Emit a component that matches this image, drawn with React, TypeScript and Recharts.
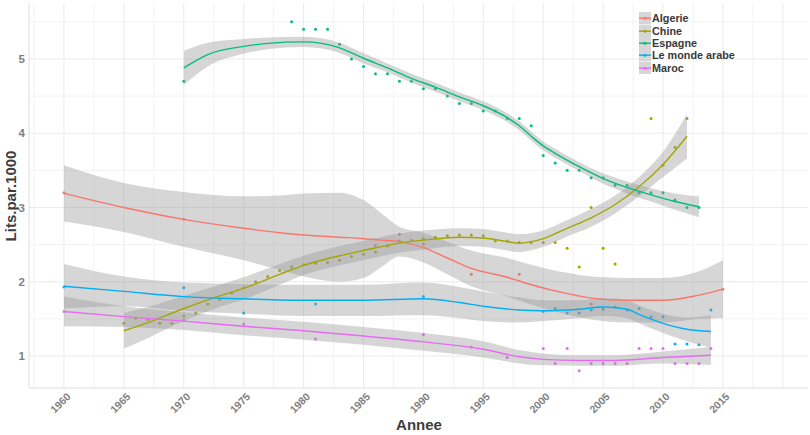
import React from 'react';
import { ComposedChart, XAxis, YAxis, Line, Area, Scatter, CartesianGrid } from 'recharts';

// ---------- data ----------
const seriesNames = ['Algerie', 'Chine', 'Espagne', 'Le monde arabe', 'Maroc'];
const seriesColors = ['#F8766D', '#A3A500', '#00BF7D', '#00B0F6', '#E76BF3'];

const yearTicks = [1960, 1965, 1970, 1975, 1980, 1985, 1990, 1995, 2000, 2005, 2010, 2015];
const majorYearGrid = [1960, 1965, 1970, 1975, 1980, 1985, 1990, 1995, 2000, 2005, 2010, 2015, 2020];
const minorYearGrid = [1957.5, 1962.5, 1967.5, 1972.5, 1977.5, 1982.5, 1987.5, 1992.5, 1997.5, 2002.5, 2007.5, 2012.5, 2017.5];
const valueTicks = [1, 2, 3, 4, 5];
const minorValueGrid = [1.5, 2.5, 3.5, 4.5, 5.5];
const xDomain = [1957.08, 2022.1];
const yDomain = [0.569, 5.754];

// observed points
const algerieYears = [1960, 1970, 1986, 1988, 1990, 1994, 1998, 2004, 2015];
const algerieValues = [3.2, 2.84, 2.49, 2.64, 2.51, 2.1, 2.1, 1.7, 1.9];

const chineYears = [1965, 1966, 1967, 1968, 1969, 1970, 1971, 1972, 1973, 1974, 1975, 1976, 1977, 1978, 1979, 1980, 1981, 1982, 1983, 1984, 1985, 1986, 1987, 1988, 1989, 1990, 1991, 1992, 1993, 1994, 1995, 1996, 1997, 1998, 1999, 2000, 2001, 2002, 2003, 2004, 2005, 2006, 2009, 2010, 2011, 2012];
const chineValues = [1.44, 1.51, 1.49, 1.44, 1.44, 1.54, 1.58, 1.7, 1.76, 1.85, 1.92, 2.0, 2.07, 2.15, 2.2, 2.23, 2.25, 2.26, 2.29, 2.34, 2.37, 2.4, 2.48, 2.55, 2.56, 2.58, 2.6, 2.62, 2.63, 2.63, 2.62, 2.55, 2.55, 2.53, 2.53, 2.53, 2.53, 2.45, 2.2, 3.0, 2.45, 2.24, 4.2, 3.57, 3.81, 4.2];

const espagneYears = [1970, 1979, 1980, 1981, 1982, 1983, 1984, 1985, 1986, 1987, 1988, 1989, 1990, 1991, 1992, 1993, 1994, 1995, 1996, 1997, 1998, 1999, 2000, 2001, 2002, 2003, 2004, 2005, 2006, 2007, 2008, 2009, 2010, 2011, 2012, 2013];
const espagneValues = [4.7, 5.5, 5.4, 5.4, 5.4, 5.2, 5.0, 4.9, 4.8, 4.8, 4.7, 4.7, 4.6, 4.6, 4.5, 4.4, 4.4, 4.3, 4.3, 4.2, 4.2, 4.1, 3.7, 3.6, 3.5, 3.5, 3.4, 3.4, 3.3, 3.3, 3.2, 3.2, 3.2, 3.1, 3.0, 3.0];

const arabeYears = [1960, 1970, 1975, 1981, 1990, 2000, 2001, 2002, 2003, 2004, 2005, 2006, 2007, 2008, 2009, 2010, 2011, 2012, 2013, 2014];
const arabeValues = [1.93, 1.92, 1.58, 1.7, 1.8, 1.6, 1.64, 1.58, 1.58, 1.62, 1.63, 1.66, 1.62, 1.64, 1.53, 1.53, 1.16, 1.16, 1.15, 1.62];

const marocYears = [1960, 1970, 1975, 1981, 1990, 1994, 1997, 2000, 2001, 2002, 2003, 2004, 2005, 2006, 2007, 2008, 2009, 2010, 2011, 2012, 2013, 2014];
const marocValues = [1.6, 1.48, 1.43, 1.23, 1.29, 1.12, 0.98, 1.1, 0.9, 1.1, 0.8, 0.9, 0.9, 0.9, 0.9, 1.1, 1.1, 1.1, 0.9, 0.9, 0.9, 1.1];

// smoothed fits with confidence band
const algerieFitYears = [1960, 1965, 1970, 1975, 1978, 1980, 1983, 1985, 1986.5, 1988, 1990, 1992, 1994, 1997, 1999, 2002, 2004, 2007, 2010, 2013, 2015];
const algerieFit = [3.19, 3.0, 2.84, 2.72, 2.66, 2.63, 2.6, 2.58, 2.56, 2.54, 2.46, 2.32, 2.18, 2.06, 1.96, 1.84, 1.78, 1.75, 1.75, 1.82, 1.9];
const algerieLow = [2.81, 2.67, 2.47, 2.29, 2.16, 2.07, 2.0, 2.05, 2.2, 2.34, 2.26, 2.1, 1.94, 1.8, 1.69, 1.56, 1.49, 1.45, 1.45, 1.5, 1.51];
const algerieHigh = [3.57, 3.33, 3.21, 3.15, 3.16, 3.19, 3.2, 3.1, 2.92, 2.74, 2.66, 2.54, 2.42, 2.32, 2.23, 2.12, 2.07, 2.05, 2.05, 2.14, 2.29];

const chineFitYears = [1965, 1967, 1970, 1973, 1975, 1978, 1980, 1983, 1985, 1988, 1990, 1993, 1995, 1997, 1998, 2000, 2002, 2004, 2006, 2008, 2010, 2012];
const chineFit = [1.34, 1.45, 1.64, 1.81, 1.91, 2.1, 2.22, 2.35, 2.42, 2.52, 2.56, 2.6, 2.59, 2.54, 2.52, 2.58, 2.72, 2.86, 3.04, 3.28, 3.58, 3.96];
const chineLow = [1.1, 1.24, 1.47, 1.66, 1.76, 1.96, 2.09, 2.22, 2.29, 2.39, 2.43, 2.48, 2.47, 2.42, 2.4, 2.47, 2.61, 2.74, 2.92, 3.15, 3.41, 3.66];
const chineHigh = [1.58, 1.66, 1.81, 1.96, 2.06, 2.24, 2.35, 2.48, 2.55, 2.65, 2.69, 2.72, 2.71, 2.66, 2.64, 2.69, 2.83, 2.98, 3.16, 3.41, 3.75, 4.26];

const espagneFitYears = [1970, 1972, 1975, 1977, 1980, 1983, 1985, 1987, 1989, 1991, 1993, 1995, 1997, 1998, 1999, 2000, 2001, 2003, 2005, 2007, 2009, 2011, 2013];
const espagneFit = [4.88, 5.06, 5.17, 5.21, 5.23, 5.15, 5.01, 4.88, 4.74, 4.62, 4.49, 4.37, 4.21, 4.1, 3.96, 3.83, 3.73, 3.55, 3.39, 3.27, 3.17, 3.08, 3.01];
const espagneLow = [4.65, 4.9, 5.07, 5.13, 5.16, 5.08, 4.94, 4.82, 4.68, 4.56, 4.43, 4.31, 4.15, 4.04, 3.9, 3.77, 3.67, 3.49, 3.32, 3.19, 3.08, 2.97, 2.87];
const espagneHigh = [5.11, 5.22, 5.27, 5.29, 5.3, 5.22, 5.08, 4.94, 4.8, 4.68, 4.55, 4.43, 4.27, 4.16, 4.02, 3.89, 3.79, 3.61, 3.46, 3.35, 3.26, 3.19, 3.15];

const arabeFitYears = [1960, 1965, 1970, 1975, 1980, 1985, 1990, 1993, 1995, 1998, 2000, 2003, 2005, 2007, 2008, 2010, 2012, 2014];
const arabeFit = [1.94, 1.87, 1.8, 1.77, 1.75, 1.75, 1.77, 1.72, 1.67, 1.62, 1.61, 1.63, 1.66, 1.63, 1.56, 1.44, 1.36, 1.33];
const arabeLow = [1.64, 1.67, 1.61, 1.57, 1.54, 1.54, 1.55, 1.51, 1.47, 1.45, 1.47, 1.51, 1.54, 1.51, 1.44, 1.31, 1.2, 1.11];
const arabeHigh = [2.24, 2.07, 1.99, 1.97, 1.96, 1.96, 1.99, 1.93, 1.87, 1.79, 1.75, 1.75, 1.78, 1.75, 1.68, 1.57, 1.52, 1.55];

const marocFitYears = [1960, 1965, 1970, 1975, 1980, 1985, 1990, 1995, 1998, 2000, 2003, 2006, 2010, 2014];
const marocFit = [1.6, 1.53, 1.47, 1.4, 1.34, 1.27, 1.19, 1.09, 0.99, 0.955, 0.94, 0.94, 0.98, 1.01];
const marocLow = [1.4, 1.39, 1.35, 1.28, 1.22, 1.15, 1.07, 0.98, 0.9, 0.875, 0.87, 0.87, 0.9, 0.88];
const marocHigh = [1.8, 1.67, 1.59, 1.52, 1.46, 1.39, 1.31, 1.2, 1.08, 1.035, 1.01, 1.01, 1.06, 1.12];

// ---------- build ----------
const toPoints = (years: number[], values: number[]) => years.map((x, i) => ({ x, y: values[i] }));
const toSmooth = (years: number[], fit: number[], lo: number[], hi: number[]) =>
  years.map((x, i) => ({ x, fit: fit[i], band: [lo[i], hi[i]] }));

const pointSets = [
  toPoints(algerieYears, algerieValues),
  toPoints(chineYears, chineValues),
  toPoints(espagneYears, espagneValues),
  toPoints(arabeYears, arabeValues),
  toPoints(marocYears, marocValues),
];
const smoothSets = [
  toSmooth(algerieFitYears, algerieFit, algerieLow, algerieHigh),
  toSmooth(chineFitYears, chineFit, chineLow, chineHigh),
  toSmooth(espagneFitYears, espagneFit, espagneLow, espagneHigh),
  toSmooth(arabeFitYears, arabeFit, arabeLow, arabeHigh),
  toSmooth(marocFitYears, marocFit, marocLow, marocHigh),
];

const FONT = "'Liberation Sans', Arial, sans-serif";

const mapX = (axis: any, offset: any, v: number) => {
  if (axis && typeof axis.scale === 'function') return axis.scale(v);
  return offset.left + ((v - xDomain[0]) / (xDomain[1] - xDomain[0])) * offset.width;
};
const mapY = (axis: any, offset: any, v: number) => {
  if (axis && typeof axis.scale === 'function') return axis.scale(v);
  return offset.top + ((yDomain[1] - v) / (yDomain[1] - yDomain[0])) * offset.height;
};

const XTick = (props: any) => {
  const { x, payload } = props;
  return (
    <g transform={`translate(${x + 2},${392}) rotate(-45)`}>
      <text x={0} y={0} dy="0.71em" textAnchor="end" fill="#7f7f7f" fontSize={10.5} fontWeight="bold" fontFamily={FONT}>
        {payload.value}
      </text>
    </g>
  );
};

const YTick = (props: any) => {
  const { y, payload } = props;
  return (
    <text x={25} y={y} dy="0.36em" textAnchor="end" fill="#7f7f7f" fontSize={11.5} fontWeight="bold" fontFamily={FONT}>
      {payload.value}
    </text>
  );
};

const dotShape = (color: string) => (p: any) => <circle cx={p.cx} cy={p.cy} r={1.5} fill={color} />;

const ROW = 12.4;

export default function App() {
  return (
    <div style={{ position: 'absolute', left: 0, top: 0, width: 810, height: 435, background: '#ffffff' }}>
      <ComposedChart width={810} height={435} margin={{ top: 3, right: 2, bottom: 0, left: 0 }}>
        <CartesianGrid
          stroke="#f3f3f3"
          strokeWidth={1}
          horizontalCoordinatesGenerator={({ yAxis, offset }: any) => minorValueGrid.map((v) => mapY(yAxis, offset, v))}
          verticalCoordinatesGenerator={({ xAxis, offset }: any) => minorYearGrid.map((v) => mapX(xAxis, offset, v))}
        />
        <CartesianGrid
          stroke="#ebebeb"
          strokeWidth={1}
          horizontalCoordinatesGenerator={({ yAxis, offset }: any) => valueTicks.map((v) => mapY(yAxis, offset, v))}
          verticalCoordinatesGenerator={({ xAxis, offset }: any) => majorYearGrid.map((v) => mapX(xAxis, offset, v))}
        />
        <XAxis
          dataKey="x"
          type="number"
          domain={xDomain}
          ticks={yearTicks}
          allowDataOverflow
          height={47}
          axisLine={{ stroke: '#dedede' }}
          tickLine={false}
          tick={<XTick />}
          interval={0}
        />
        <YAxis
          type="number"
          domain={yDomain}
          ticks={valueTicks}
          allowDataOverflow
          width={29}
          axisLine={{ stroke: '#dedede' }}
          tickLine={false}
          tick={<YTick />}
          interval={0}
        />
        {pointSets.map((pts, i) => (
          <Scatter
            key={'s' + i}
            name={seriesNames[i]}
            data={pts}
            dataKey="y"
            fill={seriesColors[i]}
            shape={dotShape(seriesColors[i])}
            isAnimationActive={false}
            zIndex={50}
          />
        ))}
        {smoothSets.map((sm, i) => (
          <Area
            key={'a' + i}
            data={sm}
            dataKey="band"
            type="monotone"
            stroke="none"
            fill="#999999"
            fillOpacity={0.4}
            isAnimationActive={false}
            activeDot={false}
            dot={false}
          />
        ))}
        {smoothSets.map((sm, i) => (
          <Line
            key={'l' + i}
            data={sm}
            dataKey="fit"
            type="monotone"
            stroke={seriesColors[i]}
            strokeWidth={1.4}
            dot={false}
            activeDot={false}
            isAnimationActive={false}
          />
        ))}
      </ComposedChart>

      <div style={{ position: 'absolute', left: 639, top: 12.3, fontFamily: FONT }}>
        {seriesNames.map((n, i) => (
          <div key={n} style={{ display: 'flex', alignItems: 'center', height: ROW }}>
            <svg width={12} height={ROW} style={{ display: 'block' }}>
              <rect x={0} y={0} width={12} height={ROW} fill="#d6d6d6" />
              <line x1={0} x2={12} y1={ROW / 2} y2={ROW / 2} stroke={seriesColors[i]} strokeWidth={1.4} />
              <circle cx={6} cy={ROW / 2} r={1.5} fill={seriesColors[i]} />
            </svg>
            <span
              style={{
                marginLeft: 1,
                fontSize: 10.8,
                fontWeight: 'bold',
                color: '#3a3a3a',
                lineHeight: ROW + 'px',
                height: ROW,
                display: 'block',
                whiteSpace: 'nowrap',
              }}
            >
              {n}
            </span>
          </div>
        ))}
      </div>

      <svg width={810} height={435} style={{ position: 'absolute', left: 0, top: 0, pointerEvents: 'none' }}>
        <text x={419} y={430} textAnchor="middle" fill="#3d3d3d" fontSize={15} fontWeight="bold" fontFamily={FONT}>
          Annee
        </text>
        <text
          x={0}
          y={0}
          transform="translate(16,196) rotate(-90)"
          textAnchor="middle"
          fill="#3d3d3d"
          fontSize={15}
          fontWeight="bold"
          fontFamily={FONT}
        >
          Lits.par.1000
        </text>
      </svg>
    </div>
  );
}
